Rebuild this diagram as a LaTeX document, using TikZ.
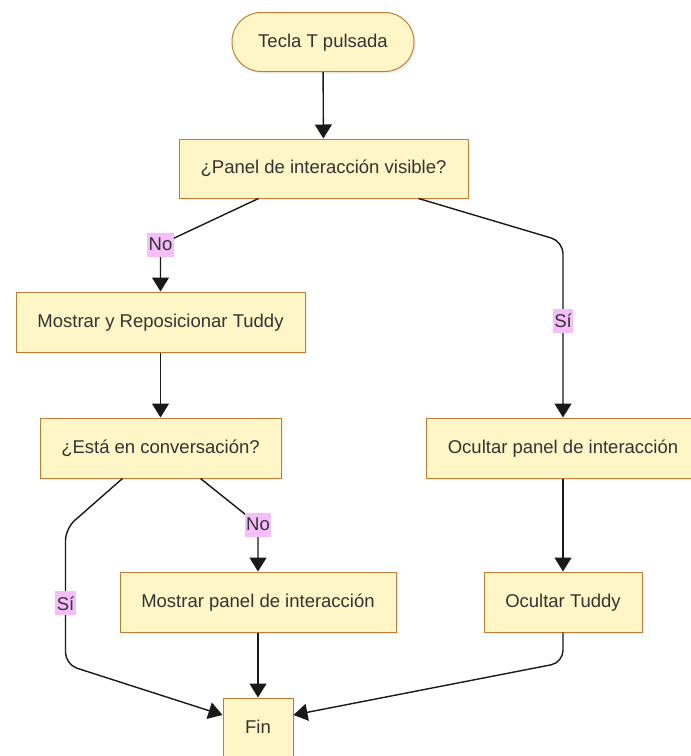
\documentclass[tikz,border=0pt]{standalone}
\usepackage{fontspec}
\setmainfont{Liberation Sans}
\usepackage{tikz}
\usetikzlibrary{arrows.meta, positioning, calc, shadows}
\definecolor{boxfill}{RGB}{255,246,199}
\definecolor{boxedge}{RGB}{196,124,52}
\definecolor{labelpink}{RGB}{245,190,250}
\definecolor{textgrey}{RGB}{51,51,51}

\begin{document}
\begin{tikzpicture}[
    x=1pt, y=-1pt,
    proc/.style={draw=boxedge, line width=1pt, fill=boxfill, minimum height=60pt, text height=13pt, text depth=3pt, text=textgrey, font=\fontsize{18.5}{22}\selectfont, drop shadow={opacity=0.12, shadow xshift=2pt, shadow yshift=-2pt}},
    term/.style={proc, rounded corners=29pt, minimum height=59pt},
    flow/.style={-{Triangle[length=14pt, width=17pt]}, line width=1.4pt, black!90, rounded corners=12pt},
    answer/.style={sharp corners, fill=labelpink, text=textgrey, inner sep=1.5pt, minimum height=24pt, font=\fontsize{18.5}{22}\selectfont}
]
    \useasboundingbox (0,0) rectangle (691,756);
    \clip (0,0) rectangle (691,756);

    % Nodes
    \node[term, minimum width=182pt] (tecla) at (323,42) {Tecla T pulsada};
    \node[proc, minimum width=289pt, minimum height=59pt] (visible) at (323.5,168.5) {¿Panel de interacción visible?};
    \node[proc, minimum width=289pt] (mostrar) at (160.5,322) {Mostrar y Reposicionar Tuddy};
    \node[proc, minimum width=241pt] (conversa) at (160.5,448) {¿Está en conversación?};
    \node[proc, minimum width=274pt] (ocultapanel) at (563,448) {Ocultar panel de interacción};
    \node[proc, minimum width=276pt] (muestrapanel) at (258,602) {Mostrar panel de interacción};
    \node[proc, minimum width=158pt] (ocultatuddy) at (563,602) {Ocultar Tuddy};
    \node[proc, minimum width=70pt] (fin) at (258,728) {Fin};

    % Edges
    \draw[flow] (tecla) -- (visible);
    \draw[flow] ($(visible.south)+(-65,0)$) -- ($(mostrar.north)+(0,-47)$) node[answer] {No} -- (mostrar.north);
    \draw[flow] ($(visible.south)+(95,0)$) -- ($(ocultapanel.north)+(0,-176)$) -- node[answer, pos=0.45] {Sí} (ocultapanel.north);
    \draw[flow] (mostrar) -- (conversa);
    \draw[flow] ($(conversa.south)+(40,0)$) -- ($(muestrapanel.north)+(0,-47)$) node[answer] {No} -- (muestrapanel.north);
    \draw[flow] ($(conversa.south)+(-38,0)$) -- ($(conversa.south)+(-95,50)$) -- node[answer, pos=0.55] {Sí} ($(conversa.south)+(-95,186)$) -- ($(fin.west)+(0,-13)$);
    \draw[flow] (muestrapanel) -- (fin);
    \draw[flow] (ocultapanel) -- (ocultatuddy);
    \draw[flow] (ocultatuddy.south) -- ($(ocultatuddy.south)+(0,30)$) -- ($(fin.east)+(0,-13)$);
\end{tikzpicture}
\end{document}
